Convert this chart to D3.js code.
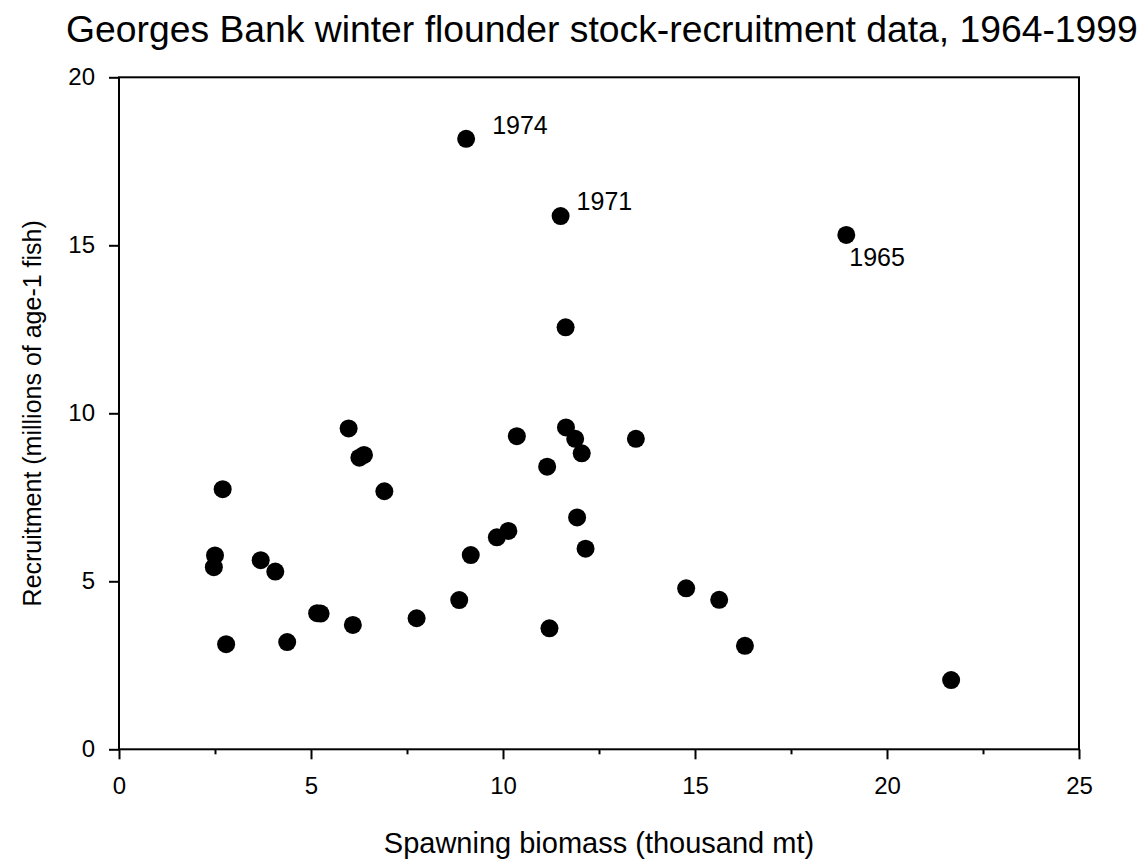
<!DOCTYPE html>
<meta charset="utf-8">
<html>
<head>
    <style>
        body { margin: 0; background: #fff; }
        text { font-family: "Liberation Sans", Arial, sans-serif; fill: #000; }
        .dot { fill: #000; }
        .frame { fill: none; stroke: #000; stroke-width: 2px; }
        .tick line { stroke: #000; stroke-width: 2px; }
    </style>
    <script src="https://d3js.org/d3.v7.min.js"></script>
</head>
<body>
  <svg width="1144" height="865"></svg>
  <script>

      // spawning biomass (thousand mt) and recruitment (millions of age-1 fish)
      var biomass     = [5.98, 6.26, 6.38, 2.70, 6.91, 2.50, 2.47, 3.69, 4.07, 5.16, 5.25, 6.09,
                         7.75, 2.79, 4.38, 9.04, 11.50, 11.63, 10.36, 11.64, 11.88, 12.05, 13.46, 11.15,
                         11.93, 12.15, 10.14, 9.84, 9.16, 8.86, 11.21, 14.77, 18.94, 15.63, 16.30, 21.67];
      var recruitment = [9.55, 8.68, 8.76, 7.74, 7.68, 5.77, 5.42, 5.63, 5.29, 4.05, 4.04, 3.70,
                         3.90, 3.13, 3.19, 18.17, 15.87, 12.56, 9.32, 9.58, 9.24, 8.81, 9.24, 8.41,
                         6.90, 5.97, 6.50, 6.31, 5.78, 4.44, 3.60, 4.79, 15.31, 4.45, 3.08, 2.06];
      var pointLabels = ["", "", "", "", "", "", "", "", "", "", "", "",
                         "", "", "", "1974", "1971", "", "", "", "", "", "", "",
                         "", "", "", "", "", "", "", "", "1965", "", "", ""];

      var xTicks = [0, 5, 10, 15, 20, 25],
          xMinor = [2.5, 7.5, 12.5, 17.5, 22.5],
          yTicks = [0, 5, 10, 15, 20];

      // label offsets in pixels from the point
      var labelOffset = { "1974": [26, -5], "1971": [16, -6], "1965": [3, 31] };

      var svg = d3.select("svg"),
          plotL = 119, plotR = 1079, plotT = 77.3, plotB = 749.3;

      var x = d3.scaleLinear().domain([0, 25]).range([plotL, plotR]),
          y = d3.scaleLinear().domain([0, 20]).range([plotB, plotT]);

      svg.append("text")
         .attr("x", 66)
         .attr("y", 41.5)
         .attr("font-size", "37.3px")
         .text("Georges Bank winter flounder stock-recruitment data, 1964-1999");

      // minor ticks first, then major axis on top
      svg.append("g")
         .attr("transform", "translate(0," + plotB + ")")
         .call(d3.axisBottom(x).tickValues(xMinor).tickSize(5).tickFormat(""))
         .call(function(g) { g.select(".domain").remove(); });

      svg.append("g")
         .attr("transform", "translate(0," + plotB + ")")
         .call(d3.axisBottom(x).tickValues(xTicks).tickSize(10).tickPadding(18).tickFormat(d3.format("d")))
         .call(function(g) {
             g.select(".domain").remove();
             g.selectAll("text").attr("font-size", "24px").attr("font-family", null);
         });

      svg.append("g")
         .attr("transform", "translate(" + plotL + ",0)")
         .call(d3.axisLeft(y).tickValues(yTicks).tickSize(10).tickPadding(14).tickFormat(d3.format("d")))
         .call(function(g) {
             g.select(".domain").remove();
             g.selectAll("text").attr("font-size", "24px").attr("font-family", null);
         });

      svg.append("rect")
         .attr("class", "frame")
         .attr("x", plotL)
         .attr("y", plotT)
         .attr("width", plotR - plotL)
         .attr("height", plotB - plotT);

      svg.append("text")
         .attr("x", (plotL + plotR) / 2)
         .attr("y", 853)
         .attr("text-anchor", "middle")
         .attr("font-size", "29px")
         .text("Spawning biomass (thousand mt)");

      svg.append("text")
         .attr("transform", "translate(41," + ((plotT + plotB) / 2) + ") rotate(-90)")
         .attr("text-anchor", "middle")
         .attr("font-size", "25px")
         .text("Recruitment (millions of age-1 fish)");

      var data = biomass.map(function(b, i) {
          return { x: b, y: recruitment[i], label: pointLabels[i] };
      });

      svg.selectAll(".dot")
         .data(data)
         .enter().append("circle")
         .attr("class", "dot")
         .attr("cx", function(d) { return x(d.x); })
         .attr("cy", function(d) { return y(d.y); })
         .attr("r", 9);

      svg.selectAll(".plabel")
         .data(data.filter(function(d) { return d.label; }))
         .enter().append("text")
         .attr("class", "plabel")
         .attr("x", function(d) { return x(d.x) + labelOffset[d.label][0]; })
         .attr("y", function(d) { return y(d.y) + labelOffset[d.label][1]; })
         .attr("font-size", "25px")
         .text(function(d) { return d.label; });

  </script>
</body>
</html>
